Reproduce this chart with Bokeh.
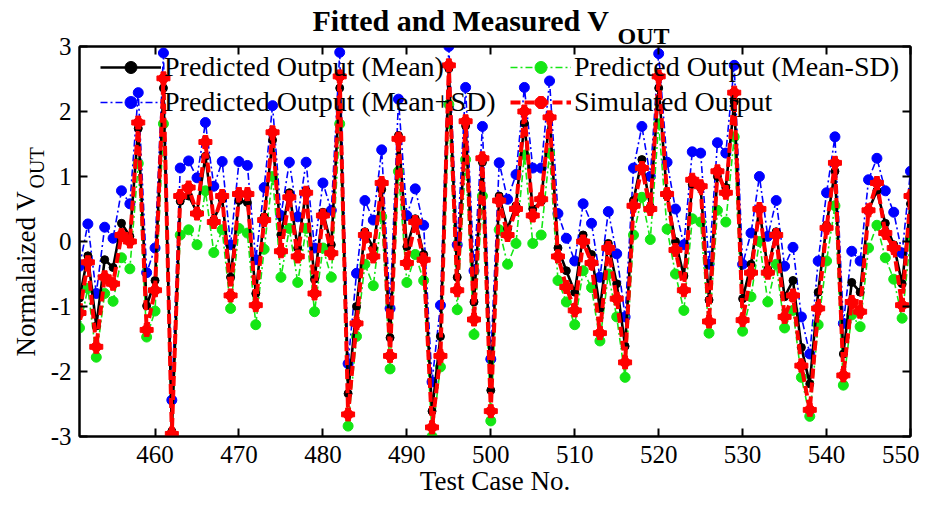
from bokeh.plotting import figure
from bokeh.models import Range1d, LinearAxis, FixedTicker, Legend, LegendItem, Title
from bokeh.embed import file_html
from bokeh.resources import INLINE

# ---------------- data ----------------
case_no = list(range(451, 551))

mean = [
    -0.87, -0.22, -1.30, -0.28, -0.40, 0.28, 0.08, 1.74, -0.99, -0.60,
    2.36, -2.92, 0.62, 0.70, 0.45, 1.31, 0.33, 0.65, -0.55, 0.63,
    0.60, -0.80, 0.38, 1.56, 0.10, 0.75, -0.10, 0.78, -0.58, 0.45,
    -0.05, 2.36, -2.34, -1.00, 0.15, -0.10, 0.80, -1.48, 1.63, -0.08,
    0.35, -0.20, -2.61, -1.46, 2.66, -0.55, 1.78, -0.93, 1.22, -2.29,
    0.70, 0.20, 0.55, 1.82, 0.50, 0.62, 1.91, -0.10, -0.45, -0.78,
    0.10, -0.20, -1.03, -0.03, -0.65, -1.61, 0.63, 1.26, 0.53, 2.36,
    0.70, 0.00, -0.53, 0.88, 0.83, -0.90, 1.00, 0.83, 2.15, -0.88,
    -0.35, 0.50, -0.43, 0.15, -0.85, -0.60, -1.63, -2.19, -0.78, 0.25,
    1.08, -1.73, -0.63, -0.78, 0.48, 0.78, 0.28, -0.05, -0.65, 0.58,
]

mean_plus_sd = [
    -0.38, 0.27, -0.80, 0.22, 0.05, 0.78, 0.58, 2.29, -0.48, -0.10,
    2.90, -2.44, 1.13, 1.24, 0.98, 1.83, 0.85, 1.23, -0.05, 1.23,
    1.17, -0.28, 0.83, 2.09, 0.40, 1.22, 0.38, 1.22, -0.10, 0.90,
    0.48, 2.91, -1.88, -0.49, 0.63, 0.33, 1.41, -1.03, 2.19, 0.40,
    0.81, 0.25, -2.16, -0.98, 3.00, -0.05, 2.37, -0.45, 1.77, -1.81,
    1.21, 0.65, 1.03, 2.37, 1.13, 1.13, 2.47, 0.43, 0.05, -0.30,
    0.58, 0.28, -0.55, 0.46, -0.19, -1.16, 1.13, 1.77, 1.00, 2.89,
    1.22, 0.50, -0.05, 1.38, 1.36, -0.35, 1.52, 1.36, 2.71, -0.35,
    0.13, 1.00, 0.08, 0.63, -0.38, -0.09, -1.16, -1.73, -0.30, 0.75,
    1.61, -1.26, -0.15, -0.30, 0.95, 1.28, 0.78, 0.45, -0.18, 1.08,
]

mean_minus_sd = [
    -1.33, -0.72, -1.78, -0.80, -0.92, -0.25, -0.42, 1.20, -1.47, -1.07,
    1.81, -2.98, 0.10, 0.18, -0.05, 0.78, -0.17, 0.18, -1.03, 0.20,
    0.13, -1.28, -0.12, 1.00, -0.55, 0.20, -0.63, 0.20, -1.08, -0.10,
    -0.55, 1.81, -2.84, -1.46, -0.35, -0.68, 0.38, -1.96, 1.08, -0.63,
    -0.20, -0.60, -3.00, -1.93, 2.11, -1.05, 1.26, -1.43, 0.70, -2.76,
    0.18, -0.35, -0.03, 1.33, -0.03, 0.10, 1.36, -0.60, -0.93, -1.28,
    -0.45, -0.71, -1.53, -0.50, -1.16, -2.09, 0.10, 0.68, 0.03, 1.81,
    0.19, -0.50, -1.06, 0.35, 0.30, -1.41, 0.48, 0.30, 1.61, -1.38,
    -0.85, 0.00, -0.93, -0.35, -1.33, -1.06, -2.09, -2.69, -1.28, -0.30,
    0.55, -2.21, -1.13, -1.31, -0.10, 0.25, -0.25, -0.58, -1.18, 0.05,
]

simulated = [
    -1.10, -0.32, -1.62, -0.55, -0.65, 0.10, 0.00, 1.83, -1.36, -0.75,
    2.51, -2.96, 0.70, 0.83, 0.43, 1.53, 0.30, 0.70, -0.83, 0.73,
    0.73, -0.98, 0.33, 1.68, -0.15, 0.68, -0.23, 0.75, -0.80, 0.40,
    -0.18, 2.54, -2.66, -1.26, 0.10, -0.23, 0.90, -1.76, 1.58, -0.33,
    0.30, -0.28, -2.86, -1.76, 2.71, -0.75, 1.85, -1.20, 1.28, -2.61,
    0.63, 0.10, 0.50, 2.00, 0.40, 0.65, 1.91, -0.23, -0.70, -1.06,
    0.00, -0.33, -1.41, -0.10, -0.88, -1.86, 0.55, 1.13, 0.50, 2.54,
    0.73, -0.13, -0.75, 0.95, 0.85, -1.23, 1.08, 0.75, 2.29, -1.21,
    -0.48, 0.50, -0.48, 0.10, -1.16, -0.83, -1.91, -2.59, -1.03, 0.21,
    1.21, -2.06, -0.93, -1.08, 0.48, 0.90, 0.13, -0.10, -0.98, 0.70,
]

x_ticks = [460, 470, 480, 490, 500, 510, 520, 530, 540, 550]
y_ticks = [-3, -2, -1, 0, 1, 2, 3]
y_tick_labels = ["-3", "-2", "-1", "0", "1", "2", "3"]

title_main = "Fitted and Measured V"
title_sub = "OUT"
x_label = "Test Case No."
y_label_main = "Normalaized V"
y_label_sub = "OUT"
labels = ["Predicted Output (Mean)", "Predicted Output (Mean+SD)",
          "Predicted Output (Mean-SD)", "Simulated Output"]

# ---------------- figure ----------------
FONT = "Liberation Serif"

p = figure(width=919, height=504,
           min_border_left=79, min_border_right=9,
           min_border_top=46, min_border_bottom=68,
           x_range=Range1d(451, 550), y_range=Range1d(-3, 3),
           output_backend="svg", toolbar_location=None, tools="")
p.grid.visible = False
p.outline_line_color = "black"
p.outline_line_width = 2
p.background_fill_color = "white"
p.border_fill_color = "white"


def style_axis(ax, ticks, show_labels=True):
    ax.ticker = FixedTicker(ticks=ticks)
    ax.axis_line_color = "black"
    ax.axis_line_width = 2
    ax.major_tick_line_color = "black"
    ax.major_tick_line_width = 2
    ax.major_tick_in = 8
    ax.major_tick_out = 0
    ax.minor_tick_line_color = None
    ax.major_label_text_font = FONT
    ax.major_label_text_font_size = "25px"
    ax.major_label_text_color = "black"
    ax.major_label_standoff = 9
    if not show_labels:
        ax.major_label_overrides = {t: "" for t in ticks}
        ax.major_label_text_font_size = "0px"
        ax.major_label_standoff = 0


style_axis(p.xaxis[0], x_ticks)
style_axis(p.yaxis[0], y_ticks)
p.yaxis[0].major_label_standoff = 8
p.yaxis[0].major_label_overrides = dict(zip(y_ticks, y_tick_labels))

xa = p.xaxis[0]
xa.axis_label = x_label
xa.axis_label_standoff = 0
xa.axis_label_text_font = FONT
xa.axis_label_text_font_size = "27px"
xa.axis_label_text_font_style = "normal"
xa.axis_label_text_color = "black"

top_ax = LinearAxis()
right_ax = LinearAxis()
style_axis(top_ax, x_ticks, show_labels=False)
style_axis(right_ax, y_ticks, show_labels=False)
p.add_layout(top_ax, "above")
p.add_layout(right_ax, "right")

# invisible spacer on the left (one hidden tick) so the y label sits away from tick labels
spacer = LinearAxis(ticker=FixedTicker(ticks=[0]))
spacer.axis_line_color = None
spacer.major_tick_line_color = None
spacer.minor_tick_line_color = None
spacer.major_tick_in = 0
spacer.major_tick_out = 22
spacer.minor_tick_out = 0
spacer.major_label_standoff = 0
spacer.major_label_overrides = {0: ""}
spacer.major_label_text_font_size = "0px"
p.add_layout(spacer, "left")

# title: main part and lowered subscript
p.add_layout(Title(text=title_sub, align="left", offset=538, standoff=-4,
                   vertical_align="bottom", text_font=FONT, text_font_size="24px",
                   text_font_style="bold", text_color="black"), "above")
p.add_layout(Title(text=title_main, align="left", offset=233, standoff=-29,
                   vertical_align="bottom", text_font=FONT, text_font_size="30px",
                   text_font_style="bold", text_color="black"), "above")
# y label: main part and subscript
p.add_layout(Title(text=y_label_main, align="left", offset=80, standoff=-30,
                   vertical_align="bottom", text_font=FONT, text_font_size="27px",
                   text_font_style="normal", text_color="black"), "left")
p.add_layout(Title(text=y_label_sub, align="left", offset=248, standoff=-48,
                   vertical_align="bottom", text_font=FONT, text_font_size="20px",
                   text_font_style="normal", text_color="black"), "left")

# ---------------- series ----------------
BLUE = "#0000ff"
GREEN = "#14e614"
RED = "#ff0000"

b_line = p.line(case_no, mean_plus_sd, line_color=BLUE, line_width=1.6, line_dash="7 3 2 3")
b_pts = p.scatter(case_no, mean_plus_sd, marker="circle", size=10, fill_color=BLUE, line_color=BLUE)
g_line = p.line(case_no, mean_minus_sd, line_color=GREEN, line_width=1.6, line_dash="7 3 2 3")
g_pts = p.scatter(case_no, mean_minus_sd, marker="circle", size=10, fill_color=GREEN, line_color=GREEN)
k_line = p.line(case_no, mean, line_color="black", line_width=2.6)
k_pts = p.scatter(case_no, mean, marker="circle", size=8, fill_color="black", line_color="black")
r_line = p.line(case_no, simulated, line_color=RED, line_width=4, line_dash="10 4")
r_plus = p.scatter(case_no, simulated, marker="plus", size=13, fill_color=RED, line_color=RED)
r_pts = p.scatter(case_no, simulated, marker="circle", size=10, fill_color=RED, line_color=RED)


def make_legend(items, loc):
    lg = Legend(items=items, location=loc, orientation="vertical")
    lg.background_fill_alpha = 0
    lg.border_line_alpha = 0
    lg.padding = 0
    lg.margin = 0
    lg.spacing = 3
    lg.glyph_width = 61
    lg.glyph_height = 30
    lg.label_height = 30
    lg.label_standoff = 3
    lg.label_text_font = FONT
    lg.label_text_font_size = "28px"
    lg.label_text_color = "black"
    return lg


leg1 = make_legend([LegendItem(label=labels[0], renderers=[k_line, k_pts]),
                    LegendItem(label=labels[1], renderers=[b_line, b_pts])], (21, 318))
leg2 = make_legend([LegendItem(label=labels[2], renderers=[g_line, g_pts]),
                    LegendItem(label=labels[3], renderers=[r_line, r_plus, r_pts])], (431, 318))
p.add_layout(leg1, "center")
p.add_layout(leg2, "center")

open("out.html", "w").write(file_html(p, INLINE))
